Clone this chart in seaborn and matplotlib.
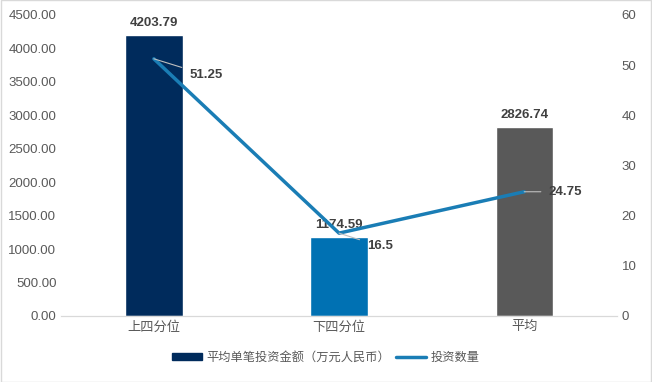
import matplotlib
matplotlib.use("Agg")
import matplotlib.pyplot as plt
import seaborn as sns
import pandas as pd
from matplotlib.patches import Patch
from matplotlib.lines import Line2D

# data
categories = ["上四分位", "下四分位", "平均"]
amounts = [4203.79, 1174.59, 2826.74]
counts = [51.25, 16.5, 24.75]
bar_colors = ["#002b5c", "#0071b3", "#595959"]
line_color = "#1a7db5"
bar_label = "平均单笔投资金额（万元人民币）"
line_label = "投资数量"

sns.set_style("white")
plt.rcParams["font.family"] = ["Liberation Sans", "Noto Sans CJK SC", "DejaVu Sans"]

df = pd.DataFrame({"cat": categories, "amount": amounts, "count": counts})

fig = plt.figure(figsize=(6.52, 3.82), dpi=100)
ax = fig.add_axes([0.094, 0.173, 0.852, 0.788])
sns.barplot(data=df, x="cat", y="amount", hue="cat", palette=bar_colors,
            width=0.31, saturation=1, legend=False, ax=ax)
ax.set_ylim(0, 4500)
ax.set_yticks(range(0, 4501, 500))
ax.set_yticklabels([f"{v:.2f}" for v in range(0, 4501, 500)])
ax.set_xlabel("")
ax.set_ylabel("")
for i, v in enumerate(amounts):
    ax.text(i, v + 90, f"{v:.2f}", ha="center", va="bottom", fontsize=9.5,
            fontweight="bold", color="#404040")

ax2 = ax.twinx()
sns.lineplot(x=list(range(len(categories))), y=counts, color=line_color,
             linewidth=2.5, ax=ax2)
ax2.set_ylim(0, 60)
ax2.set_yticks(range(0, 61, 10))
label_offsets = [(0.19, -3.2), (0.15, -2.6), (0.13, 0)]
for i, v in enumerate(counts):
    dx, dy = label_offsets[i]
    ax2.annotate(f"{v:g}", xy=(i, v), xytext=(i + dx, v + dy),
                 fontsize=9.5, fontweight="bold", color="#404040", va="center",
                 arrowprops=dict(arrowstyle="-", color="#bfbfbf", lw=0.8,
                                 shrinkA=3, shrinkB=0))

for a in (ax, ax2):
    for s in ["top", "left", "right"]:
        a.spines[s].set_visible(False)
    a.spines["bottom"].set_color("#d9d9d9")
    a.tick_params(colors="#595959", labelsize=9.5, length=0)
ax.set_xlim(-0.5, 2.5)

handles = [Patch(color=bar_colors[0], label=bar_label),
           Line2D([0], [0], color=line_color, lw=2.5, label=line_label)]
fig.legend(handles=handles, loc="center", bbox_to_anchor=(0.5, 0.063),
           ncol=2, frameon=False, fontsize=8.8, handlelength=2.4,
           handleheight=0.5, columnspacing=0.5, handletextpad=0.4,
           labelcolor="#595959")

fig.add_artist(plt.Rectangle((0.001, 0.001), 0.998, 0.998, fill=False,
                             edgecolor="#d9d9d9", lw=1,
                             transform=fig.transFigure))
fig.savefig("out.png", dpi=100)
